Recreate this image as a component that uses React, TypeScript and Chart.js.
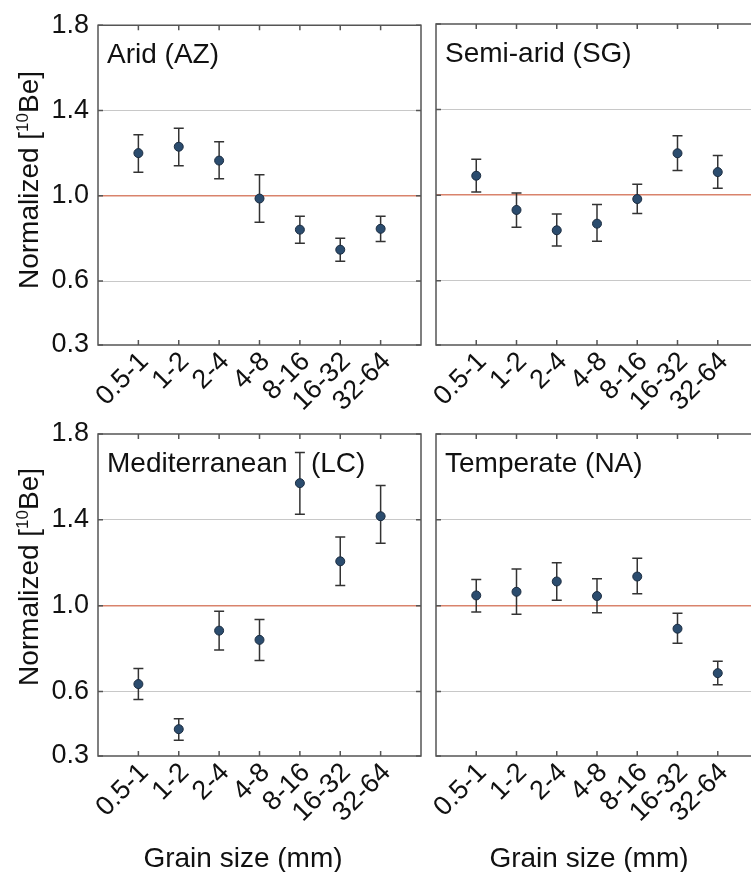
import React, { useEffect, useRef } from "react";
import { Chart, registerables } from "chart.js";

Chart.register(...registerables);

const grainSizes = ["0.5-1", "1-2", "2-4", "4-8", "8-16", "16-32", "32-64"];
const yTickValues = [0.3, 0.6, 1.0, 1.4, 1.8];

const aridMean = [1.2, 1.23, 1.165, 0.987, 0.841, 0.747, 0.845];
const aridLow = [1.11, 1.141, 1.08, 0.876, 0.777, 0.693, 0.786];
const aridHigh = [1.286, 1.317, 1.253, 1.099, 0.904, 0.801, 0.904];

const semiMean = [1.091, 0.931, 0.836, 0.867, 0.982, 1.196, 1.108];
const semiLow = [1.015, 0.85, 0.763, 0.785, 0.915, 1.115, 1.032];
const semiHigh = [1.168, 1.01, 0.912, 0.957, 1.051, 1.278, 1.186];

const medMean = [0.635, 0.425, 0.884, 0.841, 1.571, 1.207, 1.417];
const medLow = [0.563, 0.373, 0.794, 0.745, 1.426, 1.094, 1.291];
const medHigh = [0.708, 0.474, 0.974, 0.936, 1.714, 1.32, 1.56];

const tempMean = [1.048, 1.065, 1.113, 1.045, 1.136, 0.893, 0.686];
const tempLow = [0.971, 0.96, 1.026, 0.967, 1.056, 0.825, 0.632];
const tempHigh = [1.122, 1.171, 1.2, 1.126, 1.221, 0.965, 0.741];

const panelTitles = ["Arid (AZ)", "Semi-arid (SG)", "Mediterranean   (LC)", "Temperate (NA)"];
const yTitleMain = "Normalized [";
const yTitleSup = "10";
const yTitleEnd = "Be]";
const xTitle = "Grain size (mm)";

const FONT = "'Liberation Sans', Arial, Helvetica, sans-serif";
const CANVAS_W = 800;
const CANVAS_H = 872;
const X_AXIS_H = 90;
const TEXT = "#111111";
const FRAME = "#555555";
const GRID = "#c8c8c8";
const REF = "#d9836c";
const ERR = "#333333";
const MARK_FILL = "#2b4c6e";
const MARK_EDGE = "#1b2c40";

type Panel = {
  key: string;
  title: string;
  mean: number[];
  low: number[];
  high: number[];
  left: number;
  right: number;
  top: number;
  bottom: number;
  showY: boolean;
  yTitleCenter?: number;
  xTitleCenter?: number;
};

const panels: Panel[] = [
  { key: "a", title: panelTitles[0], mean: aridMean, low: aridLow, high: aridHigh, left: 98, right: 421, top: 24, bottom: 345, showY: true, yTitleCenter: 180 },
  { key: "b", title: panelTitles[1], mean: semiMean, low: semiLow, high: semiHigh, left: 436, right: 758, top: 24, bottom: 345, showY: false },
  { key: "c", title: panelTitles[2], mean: medMean, low: medLow, high: medHigh, left: 98, right: 421, top: 434, bottom: 756, showY: true, yTitleCenter: 577, xTitleCenter: 243 },
  { key: "d", title: panelTitles[3], mean: tempMean, low: tempLow, high: tempHigh, left: 436, right: 758, top: 434, bottom: 756, showY: false, xTitleCenter: 589 },
];

function makeDeco(p: Panel) {
  return {
    id: "deco" + p.key,
    beforeDatasetsDraw(chart: any) {
      const ctx = chart.ctx;
      const xs = chart.scales.x;
      const ys = chart.scales.y;
      const cap = 5;
      ctx.save();
      ctx.strokeStyle = ERR;
      ctx.lineWidth = 1.5;
      p.low.forEach((lo, i) => {
        const x = xs.getPixelForValue(i + 1);
        const y1 = ys.getPixelForValue(lo);
        const y2 = ys.getPixelForValue(p.high[i]);
        ctx.beginPath();
        ctx.moveTo(x, y1);
        ctx.lineTo(x, y2);
        ctx.moveTo(x - cap, y1);
        ctx.lineTo(x + cap, y1);
        ctx.moveTo(x - cap, y2);
        ctx.lineTo(x + cap, y2);
        ctx.stroke();
      });
      ctx.restore();
    },
    afterDraw(chart: any) {
      const ctx = chart.ctx;
      const { left, right, top, bottom } = chart.chartArea;
      const xs = chart.scales.x;
      const ys = chart.scales.y;
      const tl = 5;
      ctx.save();
      ctx.strokeStyle = FRAME;
      ctx.lineWidth = 1.5;
      ctx.beginPath();
      ctx.rect(left, top, right - left, bottom - top);
      ctx.stroke();
      ctx.beginPath();
      grainSizes.forEach((_, i) => {
        const x = xs.getPixelForValue(i + 1);
        ctx.moveTo(x, top);
        ctx.lineTo(x, top + tl);
        ctx.moveTo(x, bottom);
        ctx.lineTo(x, bottom - tl);
      });
      yTickValues.forEach((v) => {
        const y = ys.getPixelForValue(v);
        ctx.moveTo(left, y);
        ctx.lineTo(left + tl, y);
        ctx.moveTo(right, y);
        ctx.lineTo(right - tl, y);
      });
      ctx.stroke();

      ctx.fillStyle = TEXT;
      ctx.font = `28px ${FONT}`;
      ctx.textAlign = "left";
      ctx.textBaseline = "alphabetic";
      ctx.fillText(p.title, left + 9, top + 38);

      if (p.yTitleCenter !== undefined) {
        const big = `28px ${FONT}`;
        const small = `17px ${FONT}`;
        ctx.font = big;
        const w1 = ctx.measureText(yTitleMain).width;
        const w3 = ctx.measureText(yTitleEnd).width;
        ctx.font = small;
        const w2 = ctx.measureText(yTitleSup).width;
        const total = w1 + w2 + w3;
        ctx.translate(28, p.yTitleCenter);
        ctx.rotate(-Math.PI / 2);
        let x0 = -total / 2;
        const base = 10;
        ctx.font = big;
        ctx.fillText(yTitleMain, x0, base);
        x0 += w1;
        ctx.font = small;
        ctx.fillText(yTitleSup, x0, base - 10);
        x0 += w2;
        ctx.font = big;
        ctx.fillText(yTitleEnd, x0, base);
        ctx.setTransform(1, 0, 0, 1, 0, 0);
      }
      if (p.xTitleCenter !== undefined) {
        ctx.font = `28px ${FONT}`;
        ctx.textAlign = "center";
        ctx.fillText(xTitle, p.xTitleCenter, 867);
      }
      ctx.restore();
    },
  };
}

function PanelChart({ p }: { p: Panel }) {
  const ref = useRef<HTMLCanvasElement | null>(null);
  useEffect(() => {
    if (!ref.current) return;
    const chart = new Chart(ref.current, {
      type: "scatter",
      data: {
        datasets: [
          {
            data: p.mean.map((v, i) => ({ x: i + 1, y: v })),
            pointRadius: 4.5,
            pointBackgroundColor: MARK_FILL,
            pointBorderColor: MARK_EDGE,
            pointBorderWidth: 1,
            showLine: false,
          },
        ],
      },
      options: {
        responsive: false,
        animation: false,
        events: [],
        layout: {
          padding: {
            left: 0,
            top: p.top,
            right: CANVAS_W - p.right,
            bottom: CANVAS_H - p.bottom - X_AXIS_H,
          },
        },
        plugins: { legend: { display: false }, tooltip: { enabled: false } },
        scales: {
          x: {
            type: "linear",
            min: 0,
            max: 8,
            afterBuildTicks: (s: any) => {
              s.ticks = grainSizes.map((_, i) => ({ value: i + 1 }));
            },
            afterFit: (s: any) => {
              s.height = X_AXIS_H;
            },
            grid: { display: false, drawTicks: false },
            border: { display: false },
            ticks: {
              autoSkip: false,
              minRotation: 45,
              maxRotation: 45,
              padding: 1,
              labelOffset: 6,
              color: TEXT,
              font: { family: FONT, size: 27 },
              callback: (_v: any, i: number) => grainSizes[i] ?? "",
            },
          },
          y: {
            type: "linear",
            min: 0.3,
            max: 1.8,
            afterBuildTicks: (s: any) => {
              s.ticks = yTickValues.map((v) => ({ value: v }));
            },
            afterFit: (s: any) => {
              s.width = p.left;
            },
            grid: {
              drawTicks: false,
              lineWidth: (c: any) => (c.tick && Math.abs(c.tick.value - 1) < 1e-6 ? 1.5 : 1),
              color: (c: any) => {
                const v = c.tick ? c.tick.value : 0;
                if (Math.abs(v - 1) < 1e-6) return REF;
                if (Math.abs(v - 0.6) < 1e-6 || Math.abs(v - 1.4) < 1e-6) return GRID;
                return "rgba(0,0,0,0)";
              },
            },
            border: { display: false },
            ticks: {
              display: p.showY,
              padding: 9,
              color: TEXT,
              font: { family: FONT, size: 27 },
              callback: (v: any) => Number(v).toFixed(1),
            },
          },
        },
      } as any,
      plugins: [makeDeco(p)],
    });
    return () => chart.destroy();
  }, [p]);
  return (
    <canvas
      ref={ref}
      width={CANVAS_W}
      height={CANVAS_H}
      style={{ position: "absolute", left: 0, top: 0, width: CANVAS_W, height: CANVAS_H }}
    />
  );
}

export default function App() {
  return (
    <div
      style={{
        position: "absolute",
        left: 0,
        top: 0,
        width: 751,
        height: 872,
        overflow: "hidden",
        background: "#ffffff",
      }}
    >
      {panels.map((p) => (
        <PanelChart key={p.key} p={p} />
      ))}
    </div>
  );
}
